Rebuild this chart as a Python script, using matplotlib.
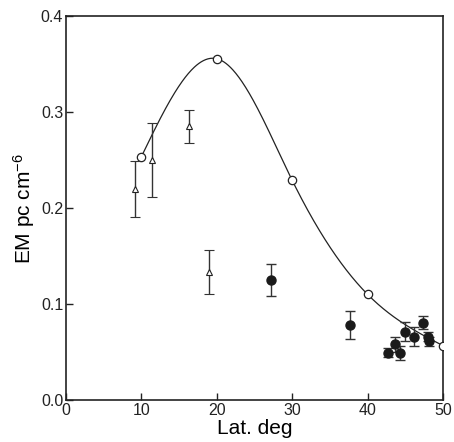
import numpy as np
import matplotlib
matplotlib.use("Agg")
import matplotlib.pyplot as plt

plt.rcParams['font.family'] = ['Liberation Sans', 'DejaVu Sans']
plt.rcParams['mathtext.default'] = 'regular'

# model curve anchor points (open circles)
model_lat = [10, 20, 30, 40, 50]
model_em = [0.2535, 0.3555, 0.2288, 0.110, 0.0566]

# open triangles with error bars
tri_lat = [9.16, 11.38, 16.3, 18.95]
tri_em = [0.220, 0.250, 0.285, 0.133]
tri_err = [0.029, 0.039, 0.017, 0.023]

# filled circles with error bars
dot_lat = [27.14, 37.6, 42.7, 43.6, 44.3, 45.0, 46.2, 47.35, 47.95, 48.15]
dot_em = [0.1253, 0.078, 0.0493, 0.058, 0.049, 0.071, 0.066, 0.0805, 0.066, 0.061]
dot_err = [0.0167, 0.0147, 0.005, 0.008, 0.007, 0.010, 0.010, 0.007, 0.005, 0.005]


def spline(x, y, xs):
    # natural cubic spline through the model points
    x = np.asarray(x, float)
    y = np.asarray(y, float)
    n = len(x)
    h = np.diff(x)
    A = np.zeros((n, n))
    r = np.zeros(n)
    A[0, 0] = A[-1, -1] = 1
    for i in range(1, n - 1):
        A[i, i - 1] = h[i - 1]
        A[i, i] = 2 * (h[i - 1] + h[i])
        A[i, i + 1] = h[i]
        r[i] = 6 * ((y[i + 1] - y[i]) / h[i] - (y[i] - y[i - 1]) / h[i - 1])
    M = np.linalg.solve(A, r)
    i = np.clip(np.searchsorted(x, xs) - 1, 0, n - 2)
    a = x[i + 1] - xs
    b = xs - x[i]
    return (M[i] * a**3 / (6 * h[i]) + M[i + 1] * b**3 / (6 * h[i])
            + (y[i] / h[i] - M[i] * h[i] / 6) * a + (y[i + 1] / h[i] - M[i + 1] * h[i] / 6) * b)


fig = plt.figure(figsize=(4.54, 4.42), dpi=100)
ax = fig.add_axes([0.1454, 0.095, 0.8304, 0.8688])

xs = np.linspace(model_lat[0], model_lat[-1], 400)
ax.plot(xs, spline(model_lat, model_em, xs), color='#222222', lw=0.9, zorder=2)
ax.plot(model_lat, model_em, 'o', ms=6, mfc='white', mec='#222222', mew=0.9, zorder=3)

ax.errorbar(tri_lat, tri_em, yerr=tri_err, fmt='^', ms=4, mfc='white', mec='#222222',
            mew=0.8, ecolor='#333333', elinewidth=1.0, capsize=3.5, capthick=1.0, zorder=3)
ax.errorbar(dot_lat, dot_em, yerr=dot_err, fmt='o', ms=6.5, mfc='#1a1a1a', mec='#1a1a1a',
            ecolor='#333333', elinewidth=1.0, capsize=3.5, capthick=1.0, zorder=3)

ax.set_xlim(0, 50)
ax.set_ylim(0, 0.4)
ax.set_xticks([0, 10, 20, 30, 40, 50])
ax.set_yticks([0.0, 0.1, 0.2, 0.3, 0.4])
ax.set_yticklabels(['0.0', '0.1', '0.2', '0.3', '0.4'])
ax.tick_params(direction='in', length=5, width=1, labelsize=11.5, colors='#222222', pad=2)
for s in ax.spines.values():
    s.set_linewidth(1.2)
    s.set_color('#222222')

ax.set_xlabel('Lat. deg', fontsize=15, labelpad=1)
ax.set_ylabel('EM pc cm$^{-6}$', fontsize=15, labelpad=3)

fig.savefig('out.png', dpi=100)
